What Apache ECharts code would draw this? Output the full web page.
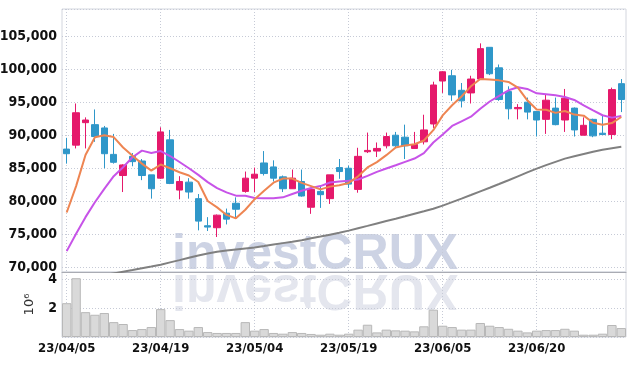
<!DOCTYPE html>
<html><head><meta charset="utf-8">
<script src="https://cdn.jsdelivr.net/npm/echarts@6.0.0/dist/echarts.min.js"></script>
<style>html,body{margin:0;padding:0;background:#fff}#c{width:635px;height:366px}</style>
</head><body><div id="c"></div>
<script>
const dates = ['23/04/05','23/04/06','23/04/07','23/04/10','23/04/11','23/04/12','23/04/13','23/04/14','23/04/17','23/04/18',
'23/04/19','23/04/20','23/04/21','23/04/24','23/04/25','23/04/26','23/04/27','23/04/28','23/05/02','23/05/03',
'23/05/04','23/05/08','23/05/09','23/05/10','23/05/11','23/05/12','23/05/15','23/05/16','23/05/17','23/05/18',
'23/05/19','23/05/22','23/05/23','23/05/24','23/05/25','23/05/26','23/05/30','23/05/31','23/06/01','23/06/02',
'23/06/05','23/06/07','23/06/08','23/06/09','23/06/12','23/06/13','23/06/14','23/06/15','23/06/16','23/06/19',
'23/06/20','23/06/21','23/06/22','23/06/23','23/06/26','23/06/27','23/06/28','23/06/29','23/06/30','23/07/03'];
const opens = [87900,88500,91900,91600,91100,87100,83900,86800,86100,84000,
83500,89300,81700,82900,80400,76300,76000,78200,79700,81500,
83500,85800,85200,83700,81900,83000,79100,81500,80400,85100,
85000,81800,87500,87600,88400,90000,89700,88000,89000,91700,
98200,99000,96800,96400,98500,103300,100200,96600,94000,95000,
93600,92400,94100,92300,94100,90000,92400,90300,90100,97800];
const closes = [87200,93400,92300,89800,87200,85900,85500,86000,83900,81900,
90500,82700,83000,81400,77000,76100,77900,77300,78800,83500,
84100,84200,83500,81900,83500,80800,81800,81000,84000,84500,
82600,86800,87700,88000,89800,88400,88400,88600,90800,97600,
99600,96100,95200,98500,103100,99300,95400,94000,94200,93500,
92300,95300,91600,95600,90800,91500,89900,90100,96900,95400];
const lows = [85700,88000,88000,89000,85000,85700,81400,85300,83200,80400,
83400,82600,80300,80400,75600,75500,74600,76500,77500,81300,
81400,83900,83000,81400,81900,80700,78100,79000,79600,83400,
82000,81300,87300,86700,88000,88100,86400,88000,88600,91100,
96400,95200,94200,94800,98400,99100,95200,92400,92400,92400,
89800,90200,91500,90500,89800,90000,89700,90100,89400,93500];
const highs = [89600,94800,92700,93900,91400,90200,85600,87300,86400,84000,
91200,90800,83800,83500,81100,77600,78000,78900,80600,84500,
85100,87600,86200,83900,84800,84800,81800,82400,84000,86400,
85400,88100,90400,88900,90400,90500,91600,90500,93100,98100,
99700,99900,97900,99000,103900,103300,100700,97400,94700,95700,
93600,96100,95700,97000,94200,92700,92500,93000,97200,98500];
const ma5 = [78300,82300,87000,89700,89980,89720,88140,86880,85700,84640,
85560,85000,84400,83900,82920,80040,79080,77940,77420,78720,
80320,81580,82820,83440,83440,82780,82300,81800,82220,82420,
82780,83780,85120,85920,86980,88140,88460,88640,89200,90760,
93000,94540,95860,97400,98500,98440,98300,98060,97200,95280,
93880,93860,93380,93660,93120,92960,91880,91580,91840,92760];
const ma10 = [72460,75090,77600,79860,81890,83800,85150,86660,87670,87320,
87600,86850,85950,85000,84000,82900,82000,81350,80850,80850,
80500,80450,80450,80600,81100,81600,82000,82300,82850,83000,
83100,83300,83850,84460,84960,85460,85970,86470,87300,88900,
90100,91400,92100,92800,94000,95100,95950,96800,97250,97000,
96340,96190,96040,95790,95330,94530,93770,93020,92660,92920];
const maLong = [67760,68040,68290,68550,68820,69080,69340,69590,69860,70120,
70410,70760,71100,71450,71800,72090,72360,72550,72720,72870,
73020,73230,73460,73670,73880,74110,74400,74670,74950,75230,
75560,75920,76280,76650,77010,77360,77730,78110,78490,78880,
79350,79880,80410,80950,81500,82050,82610,83190,83780,84370,
84950,85470,85970,86460,86810,87160,87500,87790,88020,88250];
const volumes = [2.34,4.07,1.72,1.54,1.66,1.03,0.90,0.48,0.55,0.69,
1.93,1.17,0.55,0.44,0.69,0.34,0.28,0.28,0.28,1.03,
0.44,0.55,0.28,0.23,0.34,0.28,0.21,0.16,0.23,0.16,
0.23,0.51,0.85,0.32,0.51,0.46,0.44,0.39,0.74,1.89,
0.78,0.69,0.51,0.51,0.97,0.78,0.69,0.57,0.44,0.32,
0.44,0.48,0.48,0.57,0.44,0.16,0.16,0.23,0.83,0.62];
const volumeUnit = '10⁶';
const watermark = 'investCRUX';

const FONT = 'Liberation Sans Narrow, DejaVu Sans Condensed, sans-serif';
const candle = dates.map((d, i) => [opens[i], closes[i], lows[i], highs[i]]);
const dotted = {show: true, lineStyle: {color: '#c6cad6', type: [1, 2], width: 1}};
const labelStyle = {color: '#111', fontFamily: FONT, fontSize: 14, fontWeight: 'bold'};

const chart = echarts.init(document.getElementById('c'), null, {renderer: 'canvas'});
chart.setOption({
  animation: false,
  backgroundColor: '#fff',
  grid: [
    {left: 62, right: 9, top: 9, height: 263, show: true, borderColor: '#d3d6de', borderWidth: 1,
     containLabel: false, outerBoundsMode: 'none'},
    {left: 62, right: 9, top: 272, height: 65, show: true, borderColor: '#d3d6de', borderWidth: 1,
     containLabel: false, outerBoundsMode: 'none'}
  ],
  xAxis: [
    {type: 'category', gridIndex: 0, data: dates, boundaryGap: true,
     axisLine: {show: true, lineStyle: {color: '#a9abb3'}}, axisTick: {show: false},
     axisLabel: {show: false}, splitLine: Object.assign({interval: 9, alignWithLabel: true}, dotted)},
    {type: 'category', gridIndex: 1, data: dates, boundaryGap: true,
     axisLine: {show: false}, axisTick: {show: false},
     axisLabel: Object.assign({}, labelStyle, {interval: 9, margin: 5, fontSize: 13}),
     splitLine: Object.assign({interval: 9, alignWithLabel: true}, dotted)}
  ],
  yAxis: [
    {type: 'value', gridIndex: 0, min: 69300, max: 109100, splitNumber: 8, scale: true,
     axisLine: {show: false}, axisTick: {show: false},
     axisLabel: Object.assign({margin: 5, showMinLabel: false, showMaxLabel: false,
       formatter: v => (v % 5000 === 0 ? v.toLocaleString('en-US') : '')}, labelStyle),
     splitLine: dotted},
    {type: 'value', gridIndex: 1, min: 0, max: 4.5, interval: 2,
     axisLine: {show: false}, axisTick: {show: false},
     axisLabel: Object.assign({margin: 5, showMinLabel: false, showMaxLabel: false,
       formatter: v => (v === 2 || v === 4 ? String(v) : '')}, labelStyle),
     splitLine: dotted,
     name: volumeUnit, nameLocation: 'middle', nameRotate: 90, nameGap: 26,
     nameTextStyle: {color: '#333', fontFamily: 'DejaVu Sans', fontSize: 13}}
  ],
  graphic: [
    {type: 'text', x: 172, y: 272, z: -10, silent: true,
     style: {text: watermark, x: 0, y: 8, verticalAlign: 'bottom',
             font: 'bold 50px Liberation Sans, sans-serif', fill: '#cdd3e4'}},
    {type: 'text', x: 172, y: 272, scaleY: -1, z: -10, silent: true,
     style: {text: watermark, x: 0, y: 8, verticalAlign: 'bottom',
             font: 'bold 50px Liberation Sans, sans-serif', fill: '#e4e6ee'}}
  ],
  series: [
    {type: 'candlestick', xAxisIndex: 0, yAxisIndex: 0, data: candle, barWidth: '72%',
     itemStyle: {color: '#e5196b', color0: '#2f97c9', borderColor: '#e5196b', borderColor0: '#2f97c9', borderWidth: 1}},
    {type: 'line', xAxisIndex: 0, yAxisIndex: 0, data: maLong, showSymbol: false, z: 3,
     lineStyle: {color: '#808080', width: 2}},
    {type: 'line', xAxisIndex: 0, yAxisIndex: 0, data: ma10, showSymbol: false, z: 3,
     lineStyle: {color: '#c753e8', width: 2}},
    {type: 'line', xAxisIndex: 0, yAxisIndex: 0, data: ma5, showSymbol: false, z: 3,
     lineStyle: {color: '#ee8552', width: 2}},
    {type: 'bar', xAxisIndex: 1, yAxisIndex: 1, data: volumes, barWidth: '100%',
     itemStyle: {color: '#d9d9d9', borderColor: '#b8b8b8', borderWidth: 1}}
  ]
});
</script></body></html>
